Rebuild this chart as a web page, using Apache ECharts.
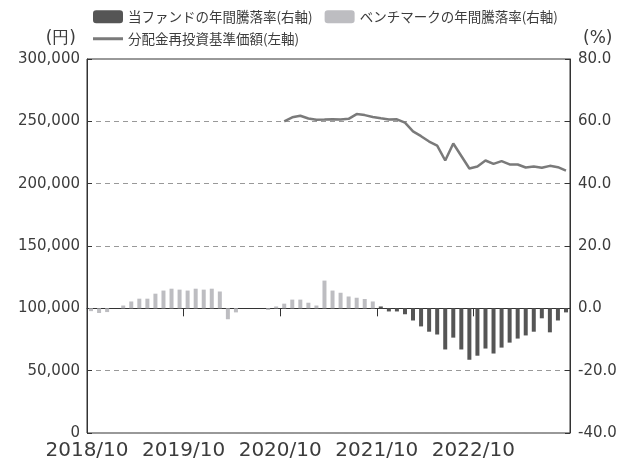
<!DOCTYPE html>
<html>
<head>
<meta charset="utf-8">
<style>
  html, body { margin: 0; padding: 0; background: #fff; }
  #main { width: 630px; height: 460px; }
</style>
<script src="https://cdn.jsdelivr.net/npm/echarts@6/dist/echarts.min.js"></script>
</head>
<body>
<div id="main"></div>
<script>
// 2018/10 - 2023/9 monthly
var startYear = 2018, startMonth = 10, monthCount = 60;
var tickLabels = ["2018/10", "2019/10", "2020/10", "2021/10", "2022/10"];

// benchmark 1y return (%), 2018/10 - 2021/9
var benchmark = [-0.9, -1.5, -1.2, 0, 0.9, 2.2, 3.1, 3.1, 4.7, 5.7, 6.3, 6.0,
                 5.7, 6.3, 6.0, 6.3, 5.4, -3.5, -1.3, 0, 0, 0, -0.5, 0.6,
                 1.5, 2.8, 2.8, 1.8, 0.9, 8.9, 5.7, 5.0, 3.8, 3.4, 3.0, 2.2];
// fund 1y return (%), 2021/10 - 2023/9
var fund = [0.6, -1.0, -1.0, -1.9, -3.9, -5.8, -7.5, -8.4, -13.2, -9.4, -13.2, -16.5,
            -15.2, -12.9, -14.5, -12.6, -11.0, -9.7, -8.7, -7.5, -3.2, -7.7, -3.9, -1.3];
// NAV (reinvested), 2020/10 - 2023/9
var nav = [250000, 253200, 254500, 252300, 251300, 251400, 251600, 251400, 252000, 255800, 255000, 253500,
           252400, 251400, 251600, 248900, 241900, 238100, 233800, 230500, 218600, 232200, 222200, 212200,
           213800, 218600, 215900, 218100, 215400, 215400, 213000, 213800, 212700, 214300, 213200, 210500];

var months = [];
for (var i = 0; i < monthCount; i++) {
  var m = startMonth - 1 + i;
  months.push((startYear + Math.floor(m / 12)) + "/" + (m % 12 + 1));
}

function pad(arr, before, total) {
  var out = [];
  for (var i = 0; i < before; i++) out.push(null);
  out = out.concat(arr);
  while (out.length < total) out.push(null);
  return out;
}

var fundName = "当ファンドの年間騰落率(右軸)";
var bmName = "ベンチマークの年間騰落率(右軸)";
var navName = "分配金再投資基準価額(左軸)";

var axisFont = "DejaVu Sans";
var jpFont = "Noto Sans CJK JP";
var textColor = "#3c3c3c";

var myChart = echarts.init(document.getElementById("main"));
var option = {
  animation: false,
  legend: [
    {
      data: [fundName, bmName],
      left: 93,
      top: 10,
      padding: 0,
      itemWidth: 30,
      itemHeight: 13,
      itemGap: 12,
      textStyle: { fontFamily: jpFont, fontSize: 13.5, color: textColor }
    },
    {
      data: [{ name: navName, icon: "rect" }],
      left: 93,
      top: 32,
      padding: 0,
      itemWidth: 30,
      itemHeight: 3,
      textStyle: { fontFamily: jpFont, fontSize: 13.5, color: textColor }
    }
  ],
  grid: {
    left: 87,
    right: 60,
    top: 59,
    bottom: 27,
    show: true,
    borderColor: "#333",
    borderWidth: 1,
    outerBoundsMode: "none"
  },
  xAxis: [
    {
      // zero line with yearly ticks
      type: "category",
      data: months,
      position: "bottom",
      boundaryGap: true,
      axisLine: { onZero: true, onZeroAxisIndex: 1, lineStyle: { color: "#333", width: 1 } },
      axisTick: {
        show: true,
        length: 8,
        interval: function (index) { return index % 12 === 0; },
        lineStyle: { color: "#333" }
      },
      axisLabel: { show: false },
      splitLine: { show: false }
    },
    {
      // labels at bottom
      type: "value",
      position: "bottom",
      min: 0,
      max: monthCount,
      interval: 12,
      axisLine: { show: false, onZero: false },
      axisTick: { show: false },
      splitLine: { show: false },
      axisLabel: {
        margin: 8,
        showMaxLabel: false,
        fontFamily: axisFont,
        fontSize: 20,
        color: textColor,
        formatter: function (v) { return tickLabels[v / 12] || ""; }
      }
    }
  ],
  yAxis: [
    {
      type: "value",
      min: 0,
      max: 300000,
      interval: 50000,
      name: "(円)",
      nameLocation: "end",
      nameGap: 12,
      nameTextStyle: { fontFamily: axisFont, fontSize: 17, color: textColor, align: "right", padding: [0, 11, 0, 0] },
      axisLine: { show: true, lineStyle: { color: "#333" } },
      axisTick: { show: true, inside: true, length: 5, lineStyle: { color: "#333" } },
      axisLabel: {
        margin: 7,
        fontFamily: axisFont,
        fontSize: 15,
        color: textColor,
        formatter: function (v) { return String(v).replace(/\B(?=(\d{3})+(?!\d))/g, ","); }
      },
      splitLine: { show: true, lineStyle: { color: "#999", type: [5, 4], width: 1 } }
    },
    {
      type: "value",
      min: -40,
      max: 80,
      interval: 20,
      name: "(%)",
      nameLocation: "end",
      nameGap: 12,
      nameTextStyle: { fontFamily: axisFont, fontSize: 17, color: textColor, align: "left", padding: [0, 0, 0, 13] },
      axisLine: { show: true, lineStyle: { color: "#333" } },
      axisTick: { show: true, inside: true, length: 5, lineStyle: { color: "#333" } },
      axisLabel: {
        margin: 8,
        fontFamily: axisFont,
        fontSize: 15,
        color: textColor,
        formatter: function (v) { return v.toFixed(1); }
      },
      splitLine: { show: false }
    }
  ],
  series: [
    {
      name: bmName,
      type: "bar",
      yAxisIndex: 1,
      barWidth: 4,
      barGap: "-100%",
      itemStyle: { color: "#bdbdc1" },
      data: pad(benchmark, 0, monthCount)
    },
    {
      name: fundName,
      type: "bar",
      yAxisIndex: 1,
      barWidth: 4,
      barGap: "-100%",
      itemStyle: { color: "#555555" },
      data: pad(fund, 36, monthCount)
    },
    {
      name: navName,
      type: "line",
      yAxisIndex: 0,
      showSymbol: false,
      symbol: "none",
      itemStyle: { color: "#7a7a7a" },
      lineStyle: { color: "#7a7a7a", width: 2.5 },
      data: pad(nav, 24, monthCount)
    }
  ]
};
myChart.setOption(option);
window.addEventListener("resize", function () {
  myChart.resize();
});
</script>
</body>
</html>
